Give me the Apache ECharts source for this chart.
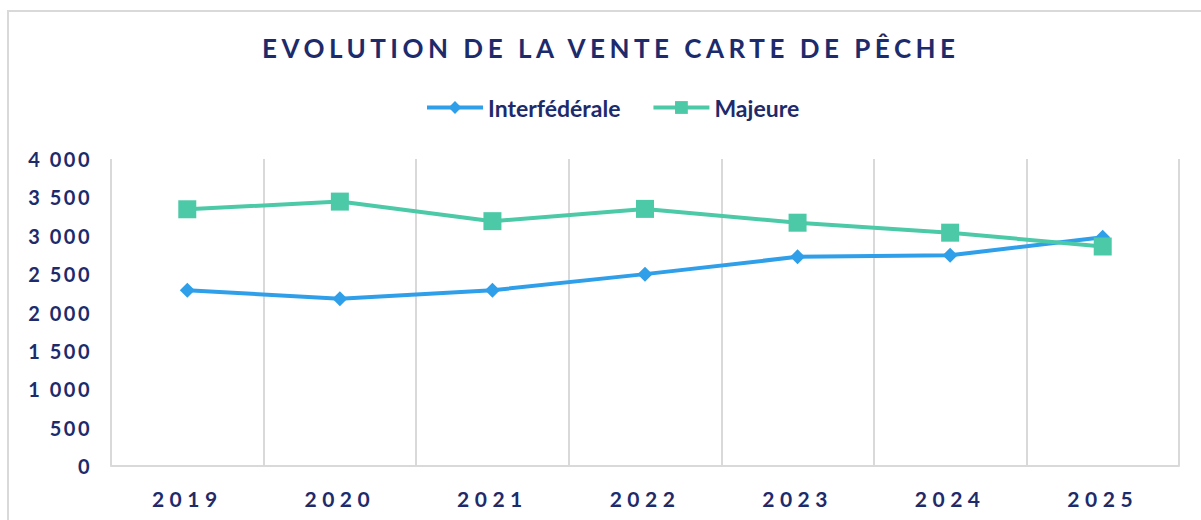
<!DOCTYPE html>
<html>
<head>
<meta charset="utf-8">
<script src="https://cdn.jsdelivr.net/npm/echarts@6/dist/echarts.min.js"></script>
<style>
  html, body { margin: 0; padding: 0; background: #fff; }
  #chart { width: 1201px; height: 520px; }
  /* espacement des lettres (titre, années, axe Y), rendu SVG */
  #chart text[style*="26px"] { letter-spacing: 4.5px; }
  #chart text[style*="21px"] { letter-spacing: 5.5px; }
  #chart text[style*="20px"] { letter-spacing: 2.5px; }
</style>
</head>
<body>
<div id="chart"></div>
<script>
"use strict";

const TITLE = "EVOLUTION DE LA VENTE CARTE DE PÊCHE";
const YEARS = ["2019", "2020", "2021", "2022", "2023", "2024", "2025"];
const INTERFEDERALE = [2290, 2180, 2290, 2500, 2725, 2745, 2980];
const MAJEURE = [3345, 3445, 3190, 3350, 3170, 3040, 2860];

const NAVY = "#1d2b6c";
const BLUE = "#2f9fe9";
const GREEN = "#4cc9a7";
const GRID = "#d9d9d9";

// 4000 → "4 000"
function fmtNum(v) {
  return String(v).replace(/\B(?=(\d{3})+(?!\d))/g, " ");
}

const chart = echarts.init(document.getElementById("chart"), null, { renderer: "svg" });
chart.setOption({
  animation: false,
  backgroundColor: "#fff",
  graphic: [{
    type: "rect", silent: true,
    shape: { x: 8, y: 11, width: 1220, height: 540 },
    style: { fill: "none", stroke: GRID, lineWidth: 2 },
  }],
  title: {
    text: TITLE, left: 257, top: 30,
    textStyle: { color: NAVY, fontFamily: "Lato", fontWeight: "bold", fontSize: 26 },
  },
  legend: {
    top: 91, left: 420, itemGap: 31, itemWidth: 56, itemHeight: 16,
    lineStyle: { width: 4 },
    textStyle: { color: NAVY, fontFamily: "Lato", fontWeight: "bold", fontSize: 23 },
  },
  grid: { left: 111, right: 22, top: 159, bottom: 54, containLabel: false },
  xAxis: {
    type: "category", data: YEARS, boundaryGap: true,
    axisLine: { lineStyle: { color: GRID, width: 2 } },
    axisTick: { show: false },
    axisLabel: { color: NAVY, fontFamily: "Lato", fontWeight: "bold", fontSize: 21, margin: 22 },
    splitLine: { show: true, lineStyle: { color: GRID, width: 2 } },
  },
  yAxis: {
    type: "value", min: 0, max: 4000, interval: 500,
    axisLine: { show: false }, axisTick: { show: false },
    splitLine: { show: false },
    axisLabel: { color: NAVY, fontFamily: "Lato", fontWeight: "bold", fontSize: 20, margin: 19, formatter: fmtNum },
  },
  series: [
    {
      name: "Interfédérale", type: "line", data: INTERFEDERALE,
      symbol: "diamond", symbolSize: 15, showAllSymbol: true,
      itemStyle: { color: BLUE }, lineStyle: { color: BLUE, width: 4 },
    },
    {
      name: "Majeure", type: "line", data: MAJEURE,
      symbol: "rect", symbolSize: 18, showAllSymbol: true,
      itemStyle: { color: GREEN }, lineStyle: { color: GREEN, width: 4 },
    },
  ],
});
</script>
</body>
</html>
